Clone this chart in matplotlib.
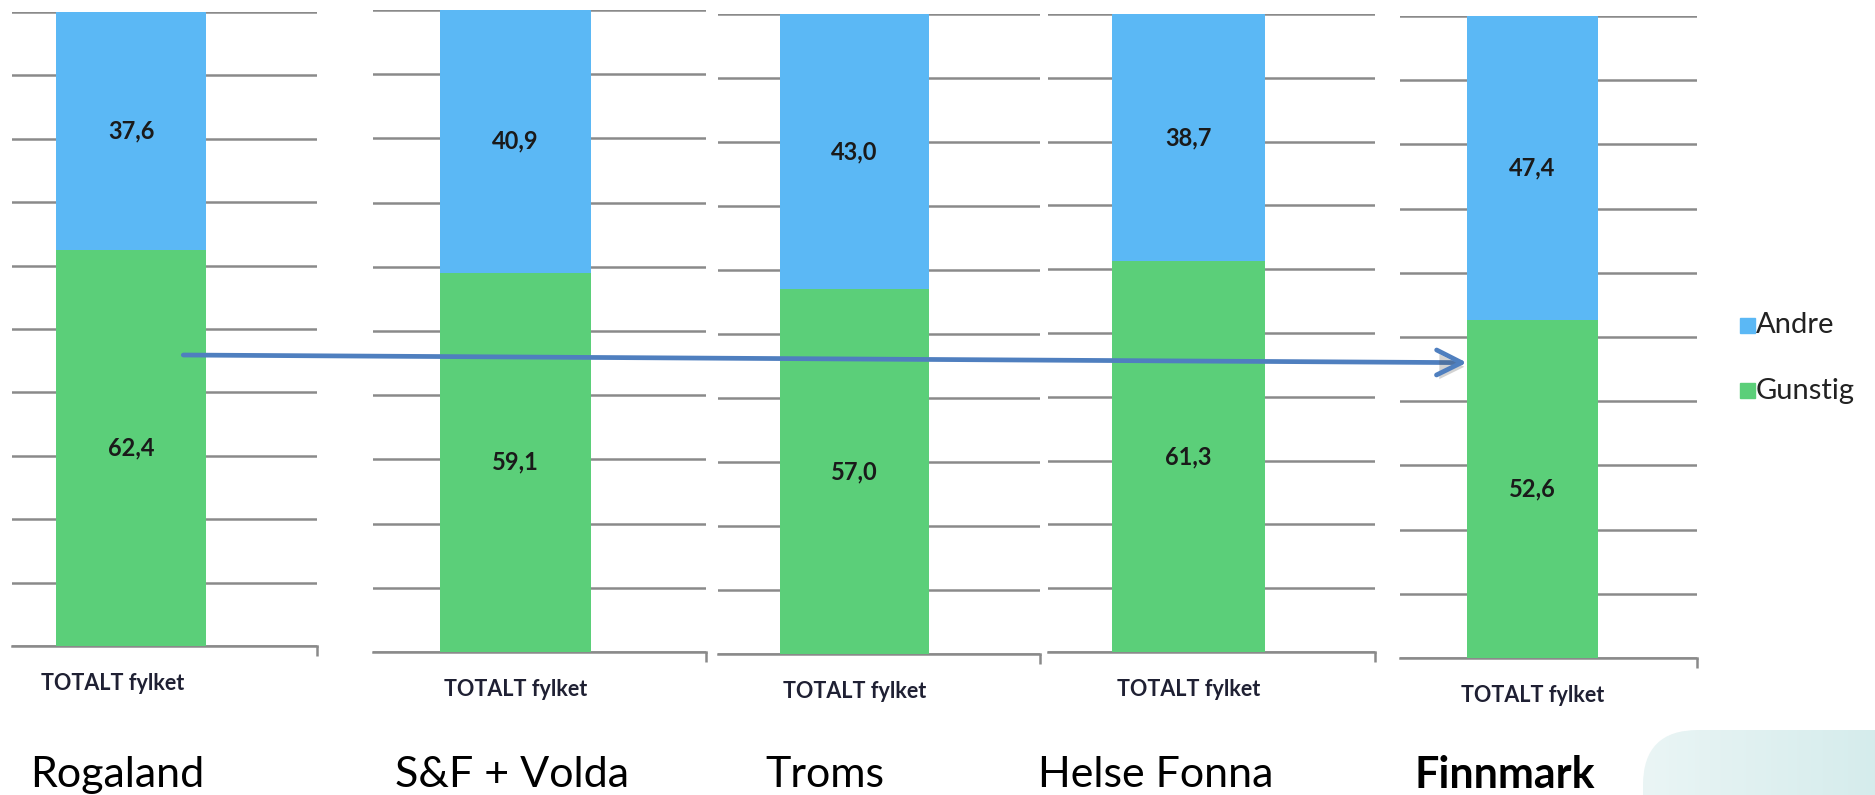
import numpy as np
import matplotlib.pyplot as plt
import matplotlib.patheffects as pe
from matplotlib.colors import LinearSegmentedColormap
from matplotlib.patches import FancyBboxPatch

plt.rcParams['font.family'] = ['Lato', 'DejaVu Sans']

regions = ["Rogaland", "S&F + Volda", "Troms", "Helse Fonna", "Finnmark"]
gunstig = [62.4, 59.1, 57.0, 61.3, 52.6]
andre = [37.6, 40.9, 43.0, 38.7, 47.4]
category = "TOTALT fylket"

blue = "#5bb8f5"
green = "#5bcf79"
grid_col = "#8a8a8a"

W, H = 1875, 795
fig = plt.figure(figsize=(W / 100, H / 100), dpi=100)

# panel boxes in pixels: x0, x1, top, bottom, bar left, bar right
boxes = [
    (12, 317, 12, 646, 56, 206),
    (373, 706, 10, 652, 440, 591),
    (718, 1040, 14, 654, 780, 929),
    (1048, 1375, 14, 652, 1112, 1265),
    (1400, 1697, 16, 658, 1467, 1598),
]
name_x = [30, 395, 765, 1038, 1415]
cat_shift = [-0.12, 0, 0, 0, 0]

axes = []
for i, (x0, x1, top, bot, bl, br) in enumerate(boxes):
    ax = fig.add_axes([x0 / W, 1 - bot / H, (x1 - x0) / W, (bot - top) / H])
    ax.bar(0, gunstig[i], width=1, color=green, zorder=3)
    ax.bar(0, andre[i], width=1, bottom=gunstig[i], color=blue, zorder=3)
    ax.set_xlim((x0 - bl) / (br - bl) - 0.5, (x1 - bl) / (br - bl) - 0.5)
    ax.set_ylim(0, 100)
    ax.set_yticks(np.arange(0, 101, 10))
    ax.yaxis.grid(True, color=grid_col, linewidth=1.8)
    ax.set_axisbelow(True)
    ax.tick_params(axis='y', left=False, labelleft=False)
    for s in ['top', 'right', 'left']:
        ax.spines[s].set_visible(False)
    ax.spines['bottom'].set_color(grid_col)
    ax.spines['bottom'].set_linewidth(1.8)
    ax.set_xticks([ax.get_xlim()[1]], [""])
    ax.tick_params(axis='x', color=grid_col, width=1.8, length=7)
    ax.text(cat_shift[i], -4.2, category, ha='center', va='top', fontsize=15.5,
            fontweight='bold', color="#1f2033")
    ax.text(0, gunstig[i] / 2, f"{gunstig[i]:.1f}".replace('.', ','),
            ha='center', va='center', fontsize=17, fontweight='bold',
            color="#1a1a1a", zorder=4)
    ax.text(0, gunstig[i] + andre[i] / 2, f"{andre[i]:.1f}".replace('.', ','),
            ha='center', va='center', fontsize=17, fontweight='bold',
            color="#1a1a1a", zorder=4)
    fig.text(name_x[i] / W, 1 - 775 / H, regions[i], ha='left', va='center',
             fontsize=31, color="black",
             fontweight='bold' if regions[i] == "Finnmark" else 'normal')
    axes.append(ax)

# arrow from Rogaland to Finnmark
arr = axes[-1].annotate("", xy=(-0.48, 46.0), xycoords=axes[-1].transData,
                        xytext=(0.33, 45.9), textcoords=axes[0].transData,
                        arrowprops=dict(arrowstyle="->,head_length=1.8,head_width=0.9",
                                        color="#4f7fbf", lw=3.4),
                        annotation_clip=False, zorder=10)
arr.arrow_patch.set_path_effects([pe.SimplePatchShadow(offset=(2, -3), alpha=0.25),
                                  pe.Normal()])

# legend
fig.patches.append(plt.Rectangle((1740 / W, 1 - 333 / H), 15 / W, 15 / H,
                                 transform=fig.transFigure, color=blue))
fig.patches.append(plt.Rectangle((1740 / W, 1 - 398 / H), 15 / W, 15 / H,
                                 transform=fig.transFigure, color=green))
fig.text(1756 / W, 1 - 325 / H, "Andre", ha='left', va='center', fontsize=21, color="#222222")
fig.text(1756 / W, 1 - 391 / H, "Gunstig", ha='left', va='center', fontsize=21, color="#222222")

# decorative shape bottom right
bg = fig.add_axes([0, 0, 1, 1], zorder=-1)
bg.set_xlim(0, W)
bg.set_ylim(H, 0)
bg.axis('off')
grad = np.linspace(0, 1, 256).reshape(1, -1)
cmap = LinearSegmentedColormap.from_list("g", ["#eaf5f5", "#d3ebeb"])
im = bg.imshow(grad, extent=(1643, 1900, 830, 730), cmap=cmap, aspect='auto')
clip = FancyBboxPatch((1643, 730), 300, 120, boxstyle="round,pad=0,rounding_size=55",
                      transform=bg.transData, facecolor='none', edgecolor='none')
bg.add_patch(clip)
im.set_clip_path(clip)

fig.savefig("out.png", dpi=100)
